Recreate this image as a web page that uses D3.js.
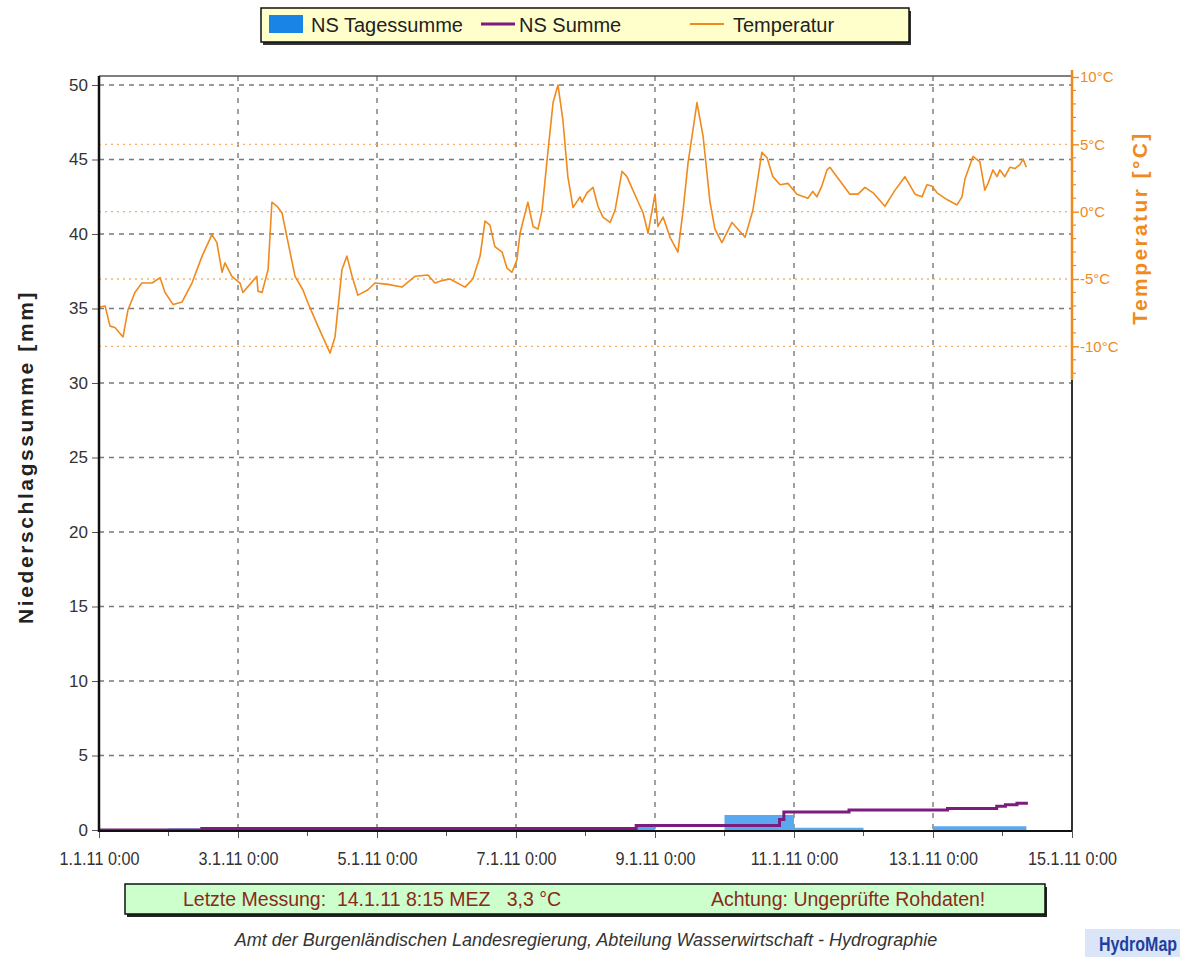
<!DOCTYPE html>
<html>
<head>
<meta charset="utf-8">
<script src="https://cdn.jsdelivr.net/npm/d3@7"></script>
<style>
  body { margin: 0; background: #fff; }
  svg { display: block; font-family: Arial, "Liberation Sans", sans-serif; }
</style>
</head>
<body>
<svg id="chart" width="1180" height="957"></svg>
<script>
// x axis: hours since 1.1.11 0:00
const xTickHours = [0, 48, 96, 144, 192, 240, 288, 336];
const xTickLabels = ['1.1.11 0:00', '3.1.11 0:00', '5.1.11 0:00', '7.1.11 0:00',
                     '9.1.11 0:00', '11.1.11 0:00', '13.1.11 0:00', '15.1.11 0:00'];
const nsTicks = [0, 5, 10, 15, 20, 25, 30, 35, 40, 45, 50];
const tempTicks = [-10, -5, 0, 5, 10];

// NS Tagessumme (mm per day), day starts in hours
const dayStart = [0, 24, 48, 72, 96, 120, 144, 168, 192, 216, 240, 264, 288, 312];
const daySum   = [0, 0.1, 0, 0, 0, 0, 0, 0.2, 0, 1.0, 0.15, 0, 0.25, 0.25];
const lastHour = 320.25; // 14.1.11 8:15

// NS Summe (mm), cumulative
const sumHours  = [0, 35.5, 185.5, 233.5, 235, 236.5, 259, 293, 310, 313, 317, 320.25];
const sumValues = [0, 0.1, 0.3, 0.3, 0.7, 1.2, 1.35, 1.45, 1.6, 1.7, 1.8, 1.9];

// Temperatur (°C)
const tempHours = [0, 2.1, 3.8, 5.5, 8.3, 10.0, 12.4, 14.8, 18.3, 21.1, 22.8, 25.6, 28.7, 32.1,
  35.6, 39.0, 40.7, 42.5, 43.5, 45.9, 48.7, 49.7, 52.1, 54.5, 54.9, 56.3, 58.4, 59.7, 61.5,
  63.2, 65.3, 67.7, 70.4, 72.2, 75.6, 79.8, 81.5, 83.9, 85.6, 87.4, 89.4, 92.9, 95.3, 99.8,
  104.6, 109.1, 113.6, 116.0, 118.8, 121.2, 126.4, 129.1, 131.6, 133.3, 135.0, 136.7, 139.2,
  140.9, 142.6, 144.3, 145.4, 148.1, 149.9, 151.6, 153.0, 155.0, 156.8, 158.5, 160.2, 161.9,
  163.7, 166.1, 166.8, 168.5, 170.6, 172.3, 174.0, 176.5, 178.2, 180.6, 182.3, 185.8, 187.9,
  189.6, 192.0, 193.0, 194.8, 197.2, 199.9, 201.7, 203.4, 206.5, 208.6, 211.0, 212.7, 215.1,
  218.6, 223.1, 225.8, 228.9, 230.7, 232.7, 235.2, 237.9, 241.0, 244.8, 246.5, 247.9, 249.6,
  251.4, 252.4, 254.8, 259.3, 262.1, 264.5, 267.3, 271.4, 274.9, 278.3, 281.8, 284.2, 285.9,
  287.6, 289.4, 292.8, 296.3, 298.0, 299.0, 301.8, 304.2, 305.9, 307.0, 308.7, 310.1, 311.1,
  312.8, 314.6, 316.3, 318.0, 319.1, 320.25];
const tempValues = [-7.1, -7.0, -8.5, -8.6, -9.3, -7.3, -6.0, -5.3, -5.3, -4.9, -6.0, -6.9, -6.7, -5.3,
  -3.3, -1.7, -2.3, -4.5, -3.8, -4.8, -5.3, -6.0, -5.4, -4.8, -5.9, -6.0, -4.3, 0.7, 0.4,
  -0.1, -2.3, -4.8, -5.8, -6.8, -8.5, -10.5, -9.3, -4.3, -3.3, -4.8, -6.2, -5.8, -5.3, -5.4,
  -5.6, -4.8, -4.7, -5.3, -5.1, -5.0, -5.6, -5.0, -3.3, -0.7, -1.0, -2.6, -3.0,
  -4.2, -4.5, -3.6, -1.6, 0.7, -1.1, -1.3, 0.1, 4.4, 8.1, 9.4, 6.8, 2.6,
  0.3, 1.1, 0.7, 1.4, 1.8, 0.4, -0.4, -0.8, 0.1, 3.0, 2.6, 0.9, -0.1,
  -1.6, 1.3, -1.1, -0.4, -1.9, -3.0, 0.1, 3.6, 8.1, 5.6, 0.7, -1.3, -2.3,
  -0.8, -1.9, 0.1, 4.4, 4.0, 2.6, 2.0, 2.1, 1.3, 1.0, 1.5, 1.1, 1.9,
  3.1, 3.3, 2.6, 1.3, 1.3, 1.8, 1.4, 0.4, 1.6, 2.6, 1.3, 1.1, 2.0,
  1.9, 1.4, 0.9, 0.5, 1.1, 2.4, 4.1, 3.7, 1.6, 2.1, 3.1, 2.6, 3.1,
  2.6, 3.3, 3.2, 3.5, 3.9, 3.3];

const svg = d3.select('#chart');

const x = d3.scaleLinear().domain([0, 336]).range([99, 1072]);
const y = d3.scaleLinear().domain([0, 50]).range([830, 85]);
const yT = d3.scaleLinear().domain([-12.5, 10]).range([380, 77]);

const plotTop = yT(10) - 1;
const orange = '#f08a1c';
const fontFam = 'Arial, "Liberation Sans", sans-serif';

// grid
svg.append('g').selectAll('line')
  .data(nsTicks.filter(d => d > 0))
  .enter().append('line')
  .attr('x1', x(0)).attr('x2', x(336))
  .attr('y1', d => y(d)).attr('y2', d => y(d))
  .attr('stroke', '#7a7a7a').attr('stroke-width', 1.4)
  .attr('stroke-dasharray', '5,5');

svg.append('g').selectAll('line')
  .data(xTickHours.slice(1, -1))
  .enter().append('line')
  .attr('x1', d => x(d)).attr('x2', d => x(d))
  .attr('y1', plotTop).attr('y2', y(0))
  .attr('stroke', '#7a7a7a').attr('stroke-width', 1.4)
  .attr('stroke-dasharray', '5,6');

svg.append('g').selectAll('line')
  .data(tempTicks.filter(d => d < 10))
  .enter().append('line')
  .attr('x1', x(0)).attr('x2', x(336))
  .attr('y1', d => yT(d)).attr('y2', d => yT(d))
  .attr('stroke', '#f5b06a').attr('stroke-width', 1.4)
  .attr('stroke-dasharray', '2,4');

// NS Tagessumme area
const dayData = dayStart.map((h, i) => ({ h: h, v: daySum[i] }));
dayData.push({ h: lastHour, v: daySum[daySum.length - 1] });
svg.append('path')
  .datum(dayData)
  .attr('fill', '#5aa9f0')
  .attr('d', d3.area().curve(d3.curveStepAfter)
    .x(d => x(d.h)).y0(y(0)).y1(d => y(d.v)));

// frame
svg.append('line')
  .attr('x1', x(0)).attr('x2', x(336)).attr('y1', plotTop).attr('y2', plotTop)
  .attr('stroke', '#555').attr('stroke-width', 1.5);
svg.append('line')
  .attr('x1', x(336)).attr('x2', x(336)).attr('y1', plotTop).attr('y2', y(0))
  .attr('stroke', '#333').attr('stroke-width', 2);

// x axis
const xAxis = svg.append('g')
  .attr('transform', `translate(0,${y(0)})`)
  .call(d3.axisBottom(x).tickValues(xTickHours)
    .tickFormat((d, i) => xTickLabels[i]).tickSize(8).tickPadding(14));
xAxis.select('.domain').remove();
xAxis.selectAll('.tick line').attr('stroke', '#555');
xAxis.selectAll('text').attr('font-size', 18).attr('fill', '#333')
  .attr('font-family', fontFam).attr('transform', 'scale(0.9,1)');
svg.append('g').selectAll('line')
  .data(d3.range(24, 336, 48))
  .enter().append('line')
  .attr('x1', d => x(d)).attr('x2', d => x(d))
  .attr('y1', y(0)).attr('y2', y(0) + 6)
  .attr('stroke', '#555');

// NS Summe
const sumData = sumHours.map((h, i) => ({ h: h, v: sumValues[i] }));
svg.append('path')
  .datum(sumData)
  .attr('fill', 'none')
  .attr('stroke', '#7b1c7e').attr('stroke-width', 3)
  .attr('d', d3.line().curve(d3.curveStepAfter).x(d => x(d.h)).y(d => y(d.v)));

svg.append('line')
  .attr('x1', x(0)).attr('x2', x(336)).attr('y1', y(0) + 1).attr('y2', y(0) + 1)
  .attr('stroke', '#111').attr('stroke-width', 2);

// Temperatur
const tempData = tempHours.map((h, i) => ({ h: h, v: tempValues[i] }));
svg.append('path')
  .datum(tempData)
  .attr('fill', 'none')
  .attr('stroke', orange).attr('stroke-width', 1.6)
  .attr('stroke-linejoin', 'round')
  .attr('d', d3.line().x(d => x(d.h)).y(d => yT(d.v)));

// left axis
const yAxis = svg.append('g')
  .attr('transform', `translate(${x(0)},0)`)
  .call(d3.axisLeft(y).tickValues(nsTicks).tickSize(7).tickPadding(4));
yAxis.select('.domain').remove();
yAxis.selectAll('.tick line').attr('stroke', '#555');
yAxis.selectAll('text').attr('font-size', 17).attr('fill', '#333')
  .attr('font-family', fontFam);
svg.append('line')
  .attr('x1', x(0)).attr('x2', x(0)).attr('y1', plotTop).attr('y2', y(0) + 2)
  .attr('stroke', '#111').attr('stroke-width', 2.5);

// right temperature axis
svg.append('g').selectAll('line')
  .data(d3.range(-12, 10, 1).filter(d => d % 5 !== 0))
  .enter().append('line')
  .attr('x1', x(336)).attr('x2', x(336) + 4)
  .attr('y1', d => yT(d)).attr('y2', d => yT(d))
  .attr('stroke', orange).attr('stroke-width', 1.2);
const tAxis = svg.append('g')
  .attr('transform', `translate(${x(336)},0)`)
  .call(d3.axisRight(yT).tickValues(tempTicks).tickFormat(d => d + '°C')
    .tickSize(7).tickPadding(1));
tAxis.select('.domain').remove();
tAxis.selectAll('.tick line').attr('stroke', orange).attr('stroke-width', 1.4);
tAxis.selectAll('text').attr('font-size', 15).attr('fill', orange)
  .attr('font-family', fontFam);
svg.append('line')
  .attr('x1', x(336)).attr('x2', x(336)).attr('y1', plotTop - 6).attr('y2', yT(-12.5))
  .attr('stroke', orange).attr('stroke-width', 2.5);

// axis titles
svg.append('text')
  .attr('transform', 'translate(33,457) rotate(-90)')
  .attr('text-anchor', 'middle')
  .attr('font-size', 21).attr('font-weight', 'bold').attr('fill', '#222')
  .attr('letter-spacing', 2.6)
  .text('Niederschlagssumme [mm]');
svg.append('text')
  .attr('transform', 'translate(1147,228) rotate(-90)')
  .attr('text-anchor', 'middle')
  .attr('font-size', 21).attr('font-weight', 'bold').attr('fill', orange)
  .attr('letter-spacing', 2.4)
  .text('Temperatur [°C]');

// legend
const legend = svg.append('g');
legend.append('rect').attr('x', 263).attr('y', 11).attr('width', 648).attr('height', 34)
  .attr('fill', '#333');
legend.append('rect').attr('x', 261).attr('y', 8).attr('width', 648).attr('height', 34)
  .attr('fill', '#ffffcc').attr('stroke', '#111').attr('stroke-width', 1.5);
legend.append('rect').attr('x', 269).attr('y', 15).attr('width', 34).attr('height', 18)
  .attr('fill', '#1a84e6');
legend.append('line').attr('x1', 481).attr('x2', 515).attr('y1', 24).attr('y2', 24)
  .attr('stroke', '#7b1c7e').attr('stroke-width', 3);
legend.append('line').attr('x1', 690).attr('x2', 724).attr('y1', 24).attr('y2', 24)
  .attr('stroke', orange).attr('stroke-width', 2);
[['NS Tagessumme', 311], ['NS Summe', 519], ['Temperatur', 733]].forEach(([t, lx]) => {
  legend.append('text').attr('x', lx).attr('y', 32)
    .attr('font-size', 20).attr('fill', '#222').text(t);
});

// footer
const footer = svg.append('g');
footer.append('rect').attr('x', 127).attr('y', 887).attr('width', 920).attr('height', 30)
  .attr('fill', '#222');
footer.append('rect').attr('x', 125).attr('y', 884).attr('width', 920).attr('height', 30)
  .attr('fill', '#ccffcc').attr('stroke', '#111').attr('stroke-width', 1.5);
footer.append('text').attr('x', 183).attr('y', 906)
  .style('white-space', 'pre')
  .attr('font-size', 19.5).attr('fill', '#8a2a1a')
  .text('Letzte Messung:  14.1.11 8:15 MEZ   3,3 °C');
footer.append('text').attr('x', 711).attr('y', 906)
  .attr('font-size', 19.5).attr('fill', '#8a2a1a')
  .text('Achtung: Ungeprüfte Rohdaten!');

svg.append('text')
  .attr('x', 586).attr('y', 946).attr('text-anchor', 'middle')
  .attr('font-size', 18).attr('font-style', 'italic').attr('fill', '#333')
  .text('Amt der Burgenländischen Landesregierung, Abteilung Wasserwirtschaft - Hydrographie');

svg.append('rect').attr('x', 1085).attr('y', 929).attr('width', 95).attr('height', 28)
  .attr('fill', '#dbe5f8');
svg.append('text').attr('transform', 'translate(1138,951) scale(0.8,1)')
  .attr('text-anchor', 'middle')
  .attr('font-size', 20).attr('font-weight', 'bold').attr('fill', '#1f3fa0')
  .text('HydroMap');
</script>
</body>
</html>
